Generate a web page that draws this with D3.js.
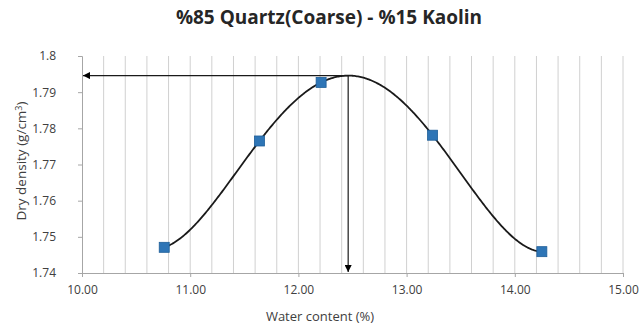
<!doctype html>
<html lang="en">
<head>
	<meta charset="UTF-8">
	<title>%85 Quartz(Coarse) - %15 Kaolin</title>
	<script src="https://cdn.jsdelivr.net/npm/d3@7"></script>
	<style>
		body { margin: 0; background: #fff; }
		svg text { font-family: "Open Sans", "Liberation Sans", sans-serif; fill: #404040; }
		.title { font-weight: bold; font-size: 19px; fill: #262626; }
		.tick-label { font-size: 12px; }
		.axis-title { font-size: 13px; }
	</style>
</head>
<body>
	<script>
		// measured points
		var waterContent = [10.76, 11.64, 12.21, 13.24, 14.25],
			dryDensity = [1.7471, 1.7765, 1.7927, 1.7781, 1.7459];

		// the black curve is a polynomial trendline (order 4) of the points
		var trendOrder = 4;

		var xTicks = [10, 11, 12, 13, 14, 15],
			yTicks = [1.74, 1.75, 1.76, 1.77, 1.78, 1.79, 1.8],
			xGrid = d3.range(51, 76).map(function(i) { return i / 5; });

		var w = 641,
			h = 325,
			margin = {top: 56, right: 18, bottom: 52, left: 82};

		var svg = d3.select('body')
			.append('svg')
			.attr('width', w)
			.attr('height', h);

		var xScale = d3.scaleLinear()
			.domain([10, 15])
			.range([margin.left, w - margin.right]);

		var yScale = d3.scaleLinear()
			.domain([1.74, 1.8])
			.range([h - margin.bottom, margin.top]);


		/**
		* least squares polynomial fit, x centred on its mean
		* @returns {function} the fitted polynomial
		*/
		var polyFit = function(xs, ys, order) {
			var x0 = d3.mean(xs),
				n = order + 1,
				A = [],
				i, j, k;

			for (i = 0; i < n; i++) {
				A.push([]);
				for (j = 0; j < n; j++) {
					A[i].push(d3.sum(xs, function(x) { return Math.pow(x - x0, i + j); }));
				}
				A[i].push(d3.sum(xs, function(x, m) { return ys[m] * Math.pow(x - x0, i); }));
			}

			// gaussian elimination
			for (i = 0; i < n; i++) {
				for (k = i + 1; k < n; k++) {
					var f = A[k][i] / A[i][i];
					for (j = i; j <= n; j++) {
						A[k][j] -= f * A[i][j];
					}
				}
			}
			var c = new Array(n);
			for (i = n - 1; i >= 0; i--) {
				var s = A[i][n];
				for (j = i + 1; j < n; j++) {
					s -= A[i][j] * c[j];
				}
				c[i] = s / A[i][i];
			}

			return function(x) {
				var y = 0;
				for (var p = n - 1; p >= 0; p--) {
					y = y * (x - x0) + c[p];
				}
				return y;
			};
		};

		var trend = polyFit(waterContent, dryDensity, trendOrder);
		var trendData = d3.range(d3.min(waterContent), d3.max(waterContent) + 0.005, 0.01)
			.map(function(x) { return [x, trend(x)]; });

		// optimum = highest point of the trendline
		var opt = trendData[d3.maxIndex(trendData, function(d) { return d[1]; })];

		// title
		svg.append('text')
			.attr('class', 'title')
			.attr('x', 329)
			.attr('y', 24)
			.attr('text-anchor', 'middle')
			.text('%85 Quartz(Coarse) - %15 Kaolin');

		// vertical gridlines
		svg.append('g')
			.selectAll('line')
			.data(xGrid)
			.enter()
			.append('line')
			.attr('x1', function(d) { return xScale(d); })
			.attr('x2', function(d) { return xScale(d); })
			.attr('y1', yScale(1.8))
			.attr('y2', yScale(1.74))
			.attr('stroke', '#d0d0d0')
			.attr('stroke-width', 1);

		// axes
		var xAxis = d3.axisBottom(xScale)
			.tickValues(xTicks)
			.tickSize(4)
			.tickPadding(8)
			.tickFormat(d3.format('.2f'));

		var yAxis = d3.axisLeft(yScale)
			.tickValues(yTicks)
			.tickSize(4)
			.tickPadding(22)
			.tickFormat(function(d) { return d3.format('.2f')(d).replace(/0$/, ''); });

		var gx = svg.append('g')
			.attr('transform', 'translate(0,' + yScale(1.74) + ')')
			.call(xAxis);

		var gy = svg.append('g')
			.attr('transform', 'translate(' + xScale(10) + ',0)')
			.call(yAxis);

		[gx, gy].forEach(function(g) {
			g.select('.domain').attr('stroke', '#a6a6a6');
			g.selectAll('.tick line').attr('stroke', '#a6a6a6');
			g.selectAll('.tick text')
				.attr('class', 'tick-label')
				.attr('fill', '#404040');
		});

		// axis titles
		svg.append('text')
			.attr('class', 'axis-title')
			.attr('x', 320)
			.attr('y', 321)
			.attr('text-anchor', 'middle')
			.text('Water content (%)');

		var yTitle = svg.append('text')
			.attr('class', 'axis-title')
			.attr('transform', 'translate(26,' + 161 + ') rotate(-90)')
			.attr('text-anchor', 'middle')
			.style('font-size', '13.5px');
		yTitle.append('tspan').text('Dry density (g/cm');
		yTitle.append('tspan').attr('dy', -4).attr('font-size', '9px').text('3');
		yTitle.append('tspan').attr('dy', 4).text(')');

		// arrow markers
		svg.append('defs')
			.append('marker')
			.attr('id', 'arrow')
			.attr('viewBox', '0 0 10 10')
			.attr('refX', 10)
			.attr('refY', 5)
			.attr('markerWidth', 7)
			.attr('markerHeight', 7)
			.attr('markerUnits', 'userSpaceOnUse')
			.attr('orient', 'auto')
			.append('path')
			.attr('d', 'M0,0L10,5L0,10Z')
			.attr('fill', '#000');

		// trendline
		var line = d3.line()
			.x(function(d) { return xScale(d[0]); })
			.y(function(d) { return yScale(d[1]); });

		svg.append('path')
			.datum(trendData)
			.attr('d', line)
			.attr('fill', 'none')
			.attr('stroke', '#1a1a1a')
			.attr('stroke-width', 1.8);

		// arrows from the optimum
		svg.append('line')
			.attr('x1', xScale(opt[0]))
			.attr('y1', yScale(opt[1]))
			.attr('x2', xScale(10) + 1)
			.attr('y2', yScale(opt[1]))
			.attr('stroke', '#1a1a1a')
			.attr('stroke-width', 1.2)
			.attr('marker-end', 'url(#arrow)');

		svg.append('line')
			.attr('x1', xScale(opt[0]))
			.attr('y1', yScale(opt[1]))
			.attr('x2', xScale(opt[0]))
			.attr('y2', yScale(1.74) - 1)
			.attr('stroke', '#1a1a1a')
			.attr('stroke-width', 1.2)
			.attr('marker-end', 'url(#arrow)');

		// markers
		svg.append('g')
			.selectAll('rect')
			.data(waterContent)
			.enter()
			.append('rect')
			.attr('x', function(d) { return xScale(d) - 5; })
			.attr('y', function(d, i) { return yScale(dryDensity[i]) - 5; })
			.attr('width', 10)
			.attr('height', 10)
			.attr('fill', '#2e75b6')
			.attr('stroke', '#1f5f99')
			.attr('stroke-width', 0.8);
	</script>
</body>
</html>
